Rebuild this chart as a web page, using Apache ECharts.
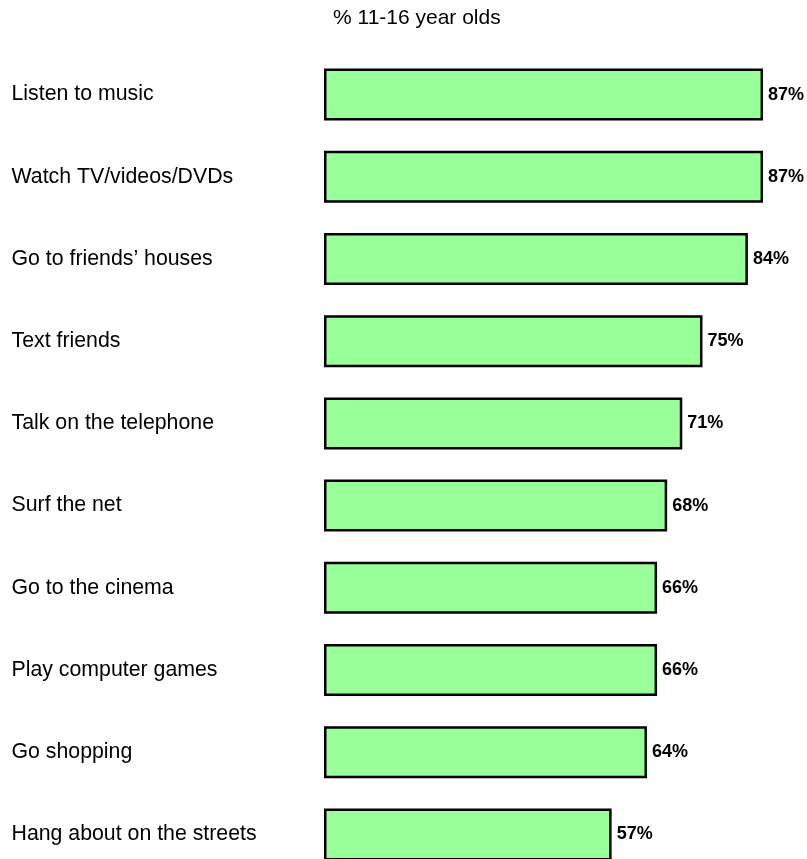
<!DOCTYPE html>
<html>
<head>
<meta charset="utf-8">
<script src="https://cdn.jsdelivr.net/npm/echarts@6/dist/echarts.min.js"></script>
<style>
  html, body { margin: 0; padding: 0; background: #fff; overflow: hidden; }
  #chart { width: 807px; height: 900px; }
</style>
</head>
<body>
<div id="chart"></div>
<script>
// Activities of 11-16 year olds (share of respondents, %)
var activities = [
  'Listen to music',
  'Watch TV/videos/DVDs',
  'Go to friends\u2019 houses',
  'Text friends',
  'Talk on the telephone',
  'Surf the net',
  'Go to the cinema',
  'Play computer games',
  'Go shopping',
  'Hang about on the streets'
];
var shares = [87, 87, 84, 75, 71, 68, 66, 66, 64, 57];
var chartTitle = '% 11-16 year olds';

var chart = echarts.init(document.getElementById('chart'), null, { renderer: 'canvas' });

chart.setOption({
  animation: false,
  backgroundColor: '#ffffff',
  title: {
    text: chartTitle,
    left: 328,
    top: 2,
    textStyle: {
      fontFamily: 'Liberation Sans, Arial, sans-serif',
      fontSize: 21,
      fontWeight: 'normal',
      color: '#000000',
      lineHeight: 22
    }
  },
  grid: {
    left: 324,
    top: 53.5,
    width: 479.4,
    height: 822,
    containLabel: false,
    outerBoundsMode: 'none'
  },
  xAxis: {
    type: 'value',
    min: 0,
    max: 95,
    show: false
  },
  yAxis: {
    type: 'category',
    data: activities,
    inverse: true,
    axisLine: { show: false },
    axisTick: { show: false },
    splitLine: { show: false },
    axisLabel: {
      align: 'left',
      margin: 312.5,
      fontFamily: 'Liberation Sans, Arial, sans-serif',
      fontSize: 21.3,
      color: '#000000'
    }
  },
  series: [{
    type: 'bar',
    data: shares,
    barWidth: 52,
    itemStyle: {
      color: '#99FF99',
      borderColor: '#000000',
      borderWidth: 2.5
    },
    label: {
      show: true,
      position: 'right',
      distance: 5,
      formatter: '{c}%',
      fontFamily: 'Liberation Sans, Arial, sans-serif',
      fontSize: 18,
      fontWeight: 'bold',
      color: '#000000'
    }
  }]
});
</script>
</body>
</html>
